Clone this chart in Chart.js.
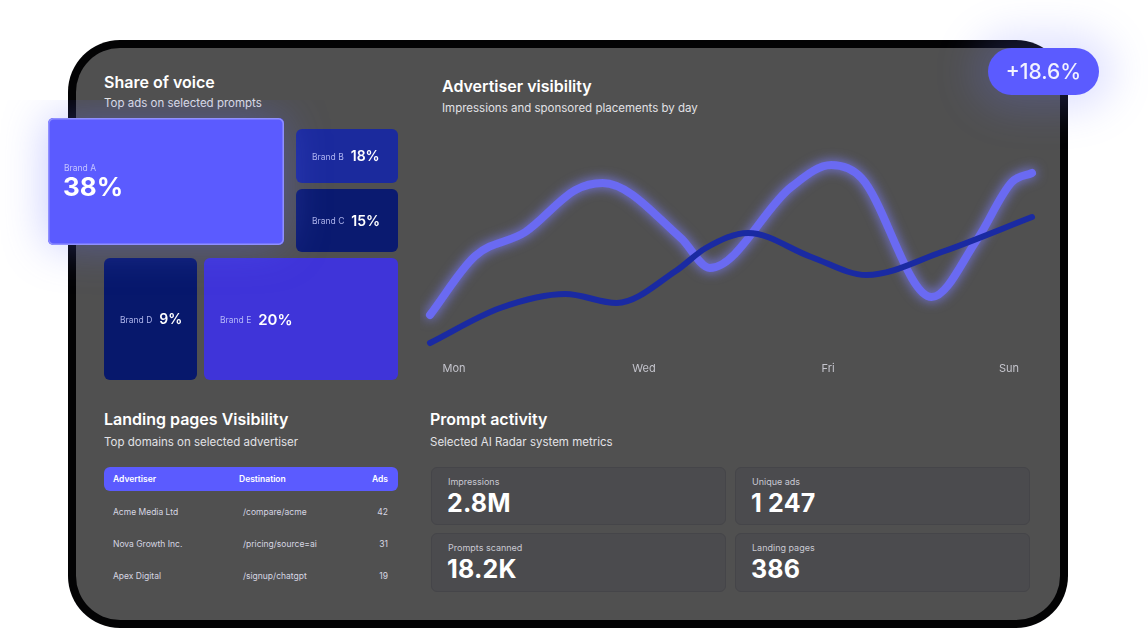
<!DOCTYPE html>
<html><head><meta charset="utf-8">
<script src="https://cdn.jsdelivr.net/npm/chart.js@4.4.1/dist/chart.umd.min.js"></script>
<style>
html,body{margin:0;padding:0;background:#fff;width:1148px;height:629px;overflow:hidden;font-family:Inter,"Noto Sans",sans-serif;}
#frame{position:absolute;left:68px;top:40px;width:1000px;height:588px;background:#030304;border-radius:52px;}
#panel{position:absolute;left:76px;top:48px;width:984px;height:572px;background:#505050;border-radius:44px;}
.title{position:absolute;color:#fff;font-weight:600;font-size:16px;line-height:20px;white-space:nowrap;}
.sub{position:absolute;color:#e2e2e6;font-size:11.5px;line-height:14px;white-space:nowrap;}
canvas{position:absolute;}
#badge{position:absolute;left:988px;top:48px;width:111px;height:47px;border-radius:24px;background:#5b5bff;color:#f2f2ff;font-size:21px;font-weight:500;line-height:47px;text-align:center;box-shadow:0 0 40px 14px rgba(110,120,255,0.22);z-index:5;}
#table{position:absolute;left:104px;top:467px;width:294px;font-size:8.5px;}
.thead{position:relative;height:24px;background:#5b5bff;border-radius:6px;color:#fff;font-weight:600;}
.row{position:relative;height:32px;color:#d6d6e2;}
.row span,.thead span{position:absolute;top:50%;transform:translateY(-50%);white-space:nowrap;}
.card{position:absolute;width:295px;height:57px;background:#4b4b4e;border:1px solid #454549;border-radius:6px;box-sizing:border-box;}
.card .lbl{position:absolute;left:16px;top:8px;font-size:9px;color:#c9c9d2;line-height:12px;}
.card .val{position:absolute;left:15px;top:20px;font-size:25px;font-weight:700;color:#fff;line-height:30px;letter-spacing:0.2px;}
</style></head>
<body>
<div id="frame"></div>
<div id="panel"></div>
<div class="title" style="left:104px;top:72px;">Share of voice</div>
<div class="sub" style="left:104px;top:96px;">Top ads on selected prompts</div>
<div class="title" style="left:442px;top:76px;">Advertiser visibility</div>
<div class="sub" style="left:442px;top:101px;">Impressions and sponsored placements by day</div>
<div class="title" style="left:104px;top:409px;">Landing pages Visibility</div>
<div class="sub" style="left:104px;top:435px;">Top domains on selected advertiser</div>
<div class="title" style="left:430px;top:409px;">Prompt activity</div>
<div class="sub" style="left:430px;top:435px;">Selected AI Radar system metrics</div>
<div id="table"></div>
<div id="cards"></div>
<canvas id="tree" width="420" height="300" style="left:0;top:100px;z-index:4;"></canvas>
<canvas id="line" width="630" height="240" style="left:420px;top:140px;z-index:3;"></canvas>
<div id="badge">+18.6%</div>
<script>
// ---- Data ----
const brands = ['Brand A','Brand B','Brand C','Brand D','Brand E'];
const shares = [38, 18, 15, 9, 20];
const days = ['Mon','Tue','Wed','Thu','Fri','Sat','Sun'];
const axisDays = ['Mon','Wed','Fri','Sun'];
const impressionsX = [0, 0.45, 0.95, 1.45, 1.72, 2.5, 2.79, 3.6, 4.0, 4.3, 5.0, 5.45, 5.8, 6.0];
const impressionsY = [17.5, 47, 59, 80, 83.5, 56, 41, 81.5, 92.5, 86, 26.5, 55, 84, 88.5];
const placementsX = [0, 0.7, 1.35, 1.86, 2.45, 2.75, 3.17, 3.8, 4.35, 5.1, 6.0];
const placementsY = [3.5, 21, 28, 23.5, 39.5, 51, 58.5, 46.5, 37.5, 49, 66.5];
const advertisers = ['Acme Media Ltd','Nova Growth Inc.','Apex Digital'];
const destinations = ['/compare/acme','/pricing/source=ai','/signup/chatgpt'];
const adsCounts = [42, 31, 19];
const metricLabels = ['Impressions','Unique ads','Prompts scanned','Landing pages'];
const metricValues = ['2.8M','1 247','18.2K','386'];

// ---- Styles / layout (not data) ----
const tileColors = ['#5b5bff','#1b2a9d','#0a1a70','#07186c','#3f34d9'];
// tile grid spans in treemap scale units [x0,x1,y0,y1]
const tileLayout = [[-56,180,0,127],[192,294,11,65],[192,294,71,134],[0,93,140,262],[100,294,140,262]];
// label anchor positions on the day axis
const axisTickPos = [0, 1.027, 2.022, 3];

// ---- Table ----
const table = document.getElementById('table');
let h = '<div class="thead"><span style="left:9px">Advertiser</span><span style="left:135px">Destination</span><span style="right:10px">Ads</span></div><div style="height:5px"></div>';
advertisers.forEach((a,i)=>{
  h += `<div class="row"><span style="left:9px">${a}</span><span style="left:139px">${destinations[i]}</span><span style="right:10px">${adsCounts[i]}</span></div>`;
});
table.innerHTML = h;

// ---- Cards ----
const cardPos = [[431,467],[735,467],[431,533],[735,533]];
document.getElementById('cards').innerHTML = metricLabels.map((l,i)=>
  `<div class="card" style="left:${cardPos[i][0]}px;top:${cardPos[i][1]}px;height:${i>1?59:58}px"><div class="lbl">${l}</div><div class="val">${metricValues[i]}</div></div>`).join('');

// ---- Treemap ----
function rr(ctx,x,y,w,h,r){ctx.beginPath();ctx.roundRect(x,y,w,h,r);}
const treemapPlugin = {
  id:'treemap',
  afterDatasetsDraw(chart){
    const {ctx, scales:{x, y}} = chart;
    const order = [1,2,3,4,0];
    order.forEach(i=>{
      const L = tileLayout[i];
      const px0 = x.getPixelForValue(L[0]), px1 = x.getPixelForValue(L[1]);
      const py0 = y.getPixelForValue(L[2]), py1 = y.getPixelForValue(L[3]);
      ctx.save();
      if(i===0){ ctx.shadowColor='rgba(100,110,255,0.38)'; ctx.shadowBlur=45; }
      ctx.fillStyle = tileColors[i];
      rr(ctx,px0,py0,px1-px0,py1-py0,i===0?5:6);
      ctx.fill();
      ctx.restore();
      if(i===0){
        ctx.save(); ctx.strokeStyle='rgba(150,150,255,0.9)'; ctx.lineWidth=1.5;
        rr(ctx,px0+0.75,py0+0.75,px1-px0-1.5,py1-py0-1.5,5); ctx.stroke(); ctx.restore();
      }
      const cy = (py0+py1)/2;
      ctx.save();
      ctx.textBaseline='middle'; ctx.textAlign='left';
      if(i===0){
        ctx.fillStyle='rgba(215,215,255,0.85)'; ctx.font='400 8.5px Inter';
        ctx.fillText(brands[i], px0+16, cy-13);
        ctx.fillStyle='#fff'; ctx.font='700 26px Inter';
        ctx.fillText(shares[i]+'%', px0+15, cy+7);
      } else {
        ctx.fillStyle='rgba(200,205,255,0.85)'; ctx.font='400 8.5px Inter';
        ctx.fillText(brands[i], px0+16, cy+1);
        const w = ctx.measureText(brands[i]).width;
        ctx.fillStyle='#fff'; ctx.font= (i===4?'600 15px Inter':'600 14px Inter');
        ctx.fillText(shares[i]+'%', px0+16+w+7, cy+1);
      }
      ctx.restore();
    });
  }
};
new Chart(document.getElementById('tree'), {
  type:'scatter',
  data:{datasets:[{data: tileLayout.map((L,i)=>({x:(L[0]+L[1])/2, y:(L[2]+L[3])/2, v:shares[i]})), pointRadius:0}]},
  options:{responsive:false, animation:false, events:[],
    layout:{padding:{left:104,right:22,top:18,bottom:20}},
    plugins:{legend:{display:false},tooltip:{enabled:false}},
    scales:{x:{type:'linear',min:0,max:294,display:false}, y:{type:'linear',min:0,max:262,reverse:true,display:false}}},
  plugins:[treemapPlugin]
});

// ---- Line chart ----
const glowPlugin = {
  id:'glow',
  beforeDatasetDraw(chart,args){ const ds=chart.data.datasets[args.index]; if(ds.glowColor){ chart.ctx.save(); chart.ctx.shadowColor=ds.glowColor; chart.ctx.shadowBlur=12; } },
  afterDatasetDraw(chart,args){ const ds=chart.data.datasets[args.index]; if(ds.glowColor){ chart.ctx.restore(); } }
};
new Chart(document.getElementById('line'), {
  type:'line',
  data:{datasets:[
    {label:'Sponsored placements', data: placementsX.map((v,i)=>({x:v,y:placementsY[i]})), borderColor:'#1a2aa2', borderWidth:6, pointRadius:0, cubicInterpolationMode:'monotone', borderCapStyle:'round', borderJoinStyle:'round', clip:false, fill:false},
    {label:'Impressions', data: impressionsX.map((v,i)=>({x:v,y:impressionsY[i]})), borderColor:'#6a6af2', borderWidth:8, pointRadius:0, cubicInterpolationMode:'monotone', borderCapStyle:'round', borderJoinStyle:'round', clip:false, fill:false, glowColor:'rgba(125,125,255,0.95)'}
  ]},
  options:{responsive:false, animation:false, events:[],
    layout:{padding:{left:10,right:18,top:10,bottom:0}},
    plugins:{legend:{display:false},tooltip:{enabled:false}},
    scales:{
      x:{type:'linear',min:0,max:days.length-1,display:false},
      y:{type:'linear',min:0,max:100,display:false},
      days:{type:'linear',position:'bottom',axis:'x',min:-0.13,max:3.124,
        grid:{display:false,drawTicks:false}, border:{display:false},
        afterFit(s){ s.height=30; },
        afterBuildTicks(s){ s.ticks = axisTickPos.map(v=>({value:v})); },
        ticks:{padding:12,color:'#c4c4cc',font:{size:11,family:'Inter'},maxRotation:0,autoSkip:false,callback:(v,i)=>axisDays[i]}}
    }},
  plugins:[glowPlugin]
});
</script>
</body></html>
